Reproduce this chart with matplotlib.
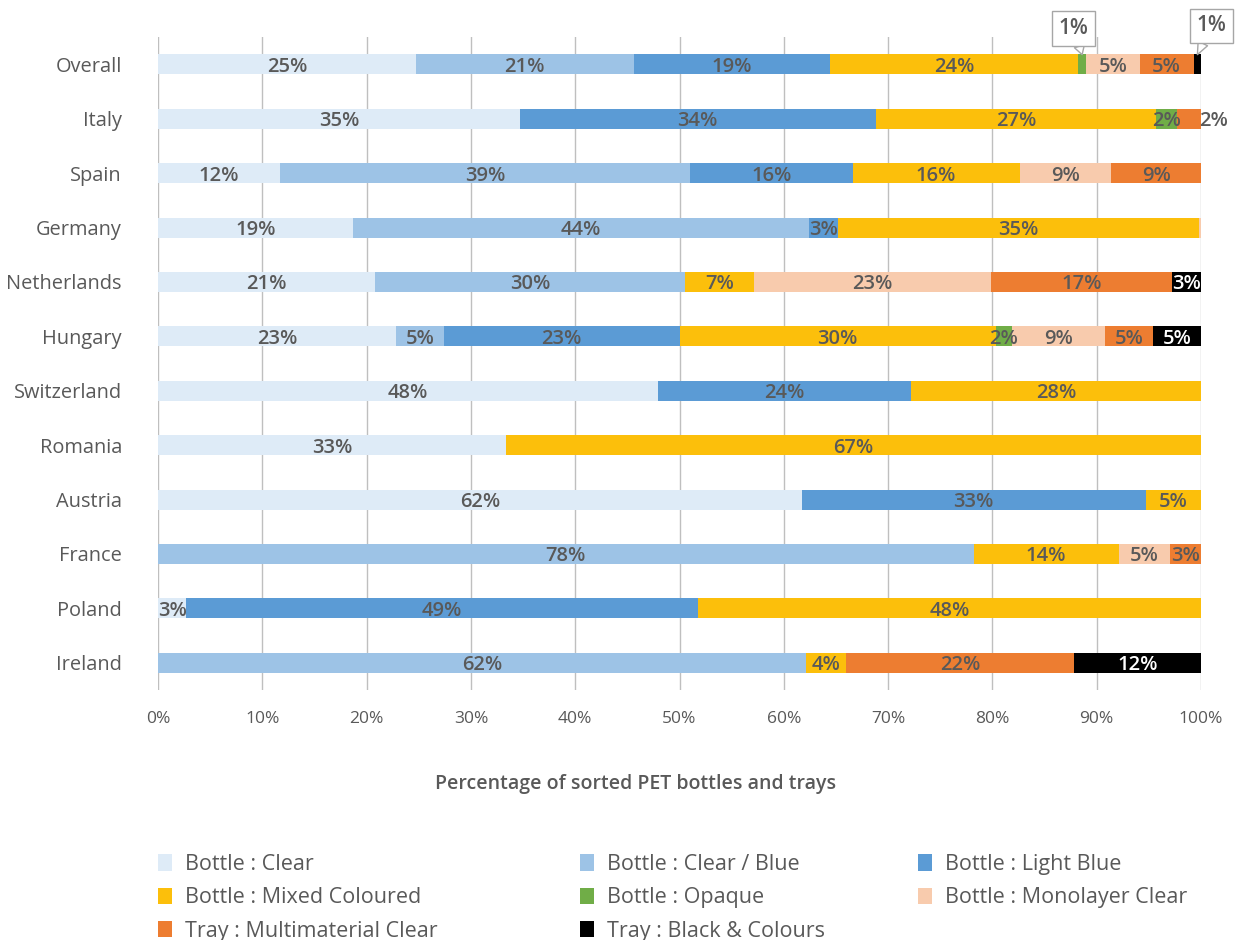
import matplotlib
matplotlib.use("Agg")
import matplotlib.pyplot as plt
from matplotlib.patches import Patch

plt.rcParams['font.family'] = ['Open Sans', 'DejaVu Sans']

countries = ["Overall", "Italy", "Spain", "Germany", "Netherlands", "Hungary",
             "Switzerland", "Romania", "Austria", "France", "Poland", "Ireland"]

series_names = ["Bottle : Clear", "Bottle : Clear / Blue", "Bottle : Light Blue",
                "Bottle : Mixed Coloured", "Bottle : Opaque", "Bottle : Monolayer Clear",
                "Tray : Multimaterial Clear", "Tray : Black & Colours"]

bottle_clear = [24.7, 34.7, 11.7, 18.7, 20.8, 22.8, 47.9, 33.4, 61.7, 0.0, 2.7, 0.0]
bottle_clear_blue = [20.9, 0.0, 39.3, 43.7, 29.7, 4.6, 0.0, 0.0, 0.0, 78.2, 0.0, 62.1]
bottle_light_blue = [18.8, 34.1, 15.6, 2.8, 0.0, 22.6, 24.3, 0.0, 33.0, 0.0, 49.1, 0.0]
bottle_mixed = [23.8, 26.9, 16.0, 34.6, 6.6, 30.3, 27.8, 66.6, 5.3, 13.9, 48.2, 3.9]
bottle_opaque = [0.8, 2.0, 0.0, 0.0, 0.0, 1.6, 0.0, 0.0, 0.0, 0.0, 0.0, 0.0]
bottle_monolayer = [5.1, 0.0, 8.8, 0.2, 22.8, 8.9, 0.0, 0.0, 0.0, 4.9, 0.0, 0.0]
tray_multi = [5.2, 2.3, 8.6, 0.0, 17.3, 4.6, 0.0, 0.0, 0.0, 3.0, 0.0, 21.8]
tray_black = [0.7, 0.0, 0.0, 0.0, 2.8, 4.6, 0.0, 0.0, 0.0, 0.0, 0.0, 12.2]

series = [bottle_clear, bottle_clear_blue, bottle_light_blue, bottle_mixed,
          bottle_opaque, bottle_monolayer, tray_multi, tray_black]
colors = ["#DEEBF7", "#9DC3E6", "#5B9BD5", "#FCBF0B", "#70AD47", "#F8CBAD",
          "#ED7D31", "#000000"]

grey = "#595959"

fig = plt.figure(figsize=(12.35, 9.4), dpi=100)
ax = fig.add_axes([0.128, 0.266, 0.8445, 0.6944])

ypos = list(range(len(countries)))
left = [0.0] * len(countries)
for k, vals in enumerate(series):
    ax.barh(ypos, vals, left=left, height=0.37, color=colors[k], zorder=2)
    for i, v in enumerate(vals):
        if v < 1.0:
            continue
        cx = left[i] + v / 2
        txt_color = "white" if k == 7 else grey
        if countries[i] == "Italy" and k == 6:
            # label pushed past the end of the bar
            cx = 101.2
        ax.text(cx, i, f"{v:.0f}%", ha="center", va="center_baseline", fontsize=14.5,
                fontweight="semibold", color=txt_color, zorder=3)
    left = [a + b for a, b in zip(left, vals)]

# callouts for the thin slices of the Overall bar
callout_kw = dict(fontsize=15, fontweight="semibold", color=grey, ha="center", va="center",
                  annotation_clip=False, zorder=5,
                  bbox=dict(boxstyle="square,pad=0.32", fc="white", ec="#A6A6A6", lw=1),
                  arrowprops=dict(arrowstyle="wedge,tail_width=0.5", fc="white",
                                  ec="#A6A6A6", lw=1, shrinkA=0, shrinkB=0))
opq_x = sum(s[0] for s in series[:4]) + bottle_opaque[0] / 2
blk_x = sum(s[0] for s in series[:7]) + tray_black[0] / 2
ax.annotate(f"{bottle_opaque[0]:.0f}%", xy=(opq_x, -0.18), xytext=(87.8, -0.66), **callout_kw)
ax.annotate(f"{tray_black[0]:.0f}%", xy=(blk_x, -0.18), xytext=(101.0, -0.71), **callout_kw)

ax.set_xlim(0, 100)
ax.set_ylim(11.5, -0.5)
ax.set_yticks(ypos)
ax.set_yticklabels(countries, fontsize=14.4, color=grey)
ax.set_xticks(range(0, 101, 10))
ax.set_xticklabels([f"{t}%" for t in range(0, 101, 10)], fontsize=12.5, color=grey)
ax.tick_params(length=0)
ax.tick_params(axis="x", pad=15)
ax.tick_params(axis="y", pad=26)
ax.grid(axis="x", color="#BFBFBF", lw=1, zorder=0)
ax.set_axisbelow(True)
for sp in ax.spines.values():
    sp.set_visible(False)

ax.set_xlabel("Percentage of sorted PET bottles and trays", fontsize=14,
              fontweight="semibold", color=grey)
ax.xaxis.set_label_coords(0.458, -0.129)

# legend: three fixed columns, filled row by row
handles = [Patch(facecolor=c, edgecolor="none", label=n) for c, n in zip(colors, series_names)]
col_x = [158, 580, 918]
for c in range(3):
    idx = list(range(c, len(series_names), 3))
    fig.legend([handles[i] for i in idx], [series_names[i] for i in idx],
               loc="upper left", bbox_to_anchor=(col_x[c] / 1235, 1 - 854 / 940),
               frameon=False, fontsize=15.5, labelcolor=grey, handlelength=0.65,
               handleheight=0.8, handletextpad=0.6, labelspacing=0.57,
               borderpad=0, borderaxespad=0)

fig.savefig("out.png", dpi=100)
